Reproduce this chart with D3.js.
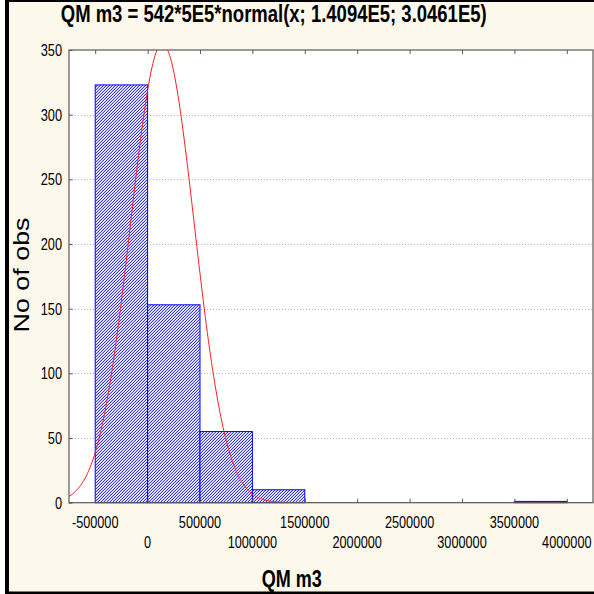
<!DOCTYPE html>
<html>
<head>
<meta charset="utf-8">
<script src="https://cdn.jsdelivr.net/npm/d3@7"></script>
<style>
  html, body { margin: 0; padding: 0; background: #ffffff; }
  svg { display: block; }
  text { font-family: "Liberation Sans", Arial, sans-serif; fill: #000; }
</style>
</head>
<body>
<svg id="chart" width="594" height="594"></svg>
<script>
// ---- data ----
const titleText = "QM m3 = 542*5E5*normal(x; 1.4094E5; 3.0461E5)";
const xLabel = "QM m3";
const yLabel = "No of obs";
const binLower = [-500000, 0, 500000, 1000000, 3500000];
const binUpper = [0, 500000, 1000000, 1500000, 4000000];
const binCounts = [323, 153, 55, 10, 1];
const fitN = 542, fitBinWidth = 5e5, fitMean = 1.4094e5, fitSd = 3.0461e5;
const xTicks = [-500000, 0, 500000, 1000000, 1500000, 2000000, 2500000, 3000000, 3500000, 4000000];
const yTicks = [0, 50, 100, 150, 200, 250, 300, 350];
const xDomain = [-750000, 4250000];
const yDomain = [0, 350];

// ---- layout ----
const W = 594, H = 594;
const plot = { left: 69, right: 593, top: 50, bottom: 502.7 };

const svg = d3.select("#chart");

// frame
svg.append("rect").attr("x", 5).attr("y", 0).attr("width", W - 5).attr("height", H).attr("fill", "#000");
svg.append("rect").attr("x", 9).attr("y", 2).attr("width", W - 9).attr("height", 589.5).attr("fill", "#fdf8ec");

const x = d3.scaleLinear().domain(xDomain).range([plot.left, plot.right]);
const y = d3.scaleLinear().domain(yDomain).range([plot.bottom, plot.top]);

// pixel hatch pattern (3px diagonal)
const defs = svg.append("defs");
const pat = defs.append("pattern").attr("id", "hatch").attr("patternUnits", "userSpaceOnUse")
  .attr("width", 3).attr("height", 3);
const hatchPixels = [
  [0, 0, "#ffffff"], [1, 0, "#c6c6ff"], [2, 0, "#3232ff"],
  [0, 1, "#c6c6ff"], [1, 1, "#3232ff"], [2, 1, "#ffffff"],
  [0, 2, "#3232ff"], [1, 2, "#ffffff"], [2, 2, "#c6c6ff"]
];
pat.selectAll("rect").data(hatchPixels).join("rect")
  .attr("x", d => d[0]).attr("y", d => d[1]).attr("width", 1).attr("height", 1)
  .attr("fill", d => d[2]).attr("shape-rendering", "crispEdges");
defs.append("clipPath").attr("id", "plotclip").append("rect")
  .attr("x", plot.left).attr("y", plot.top)
  .attr("width", plot.right - plot.left).attr("height", plot.bottom - plot.top);

// plot background
svg.append("rect").attr("x", plot.left).attr("y", plot.top)
  .attr("width", plot.right - plot.left).attr("height", plot.bottom - plot.top)
  .attr("fill", "#ffffff");

// gridlines
svg.append("g").selectAll("line").data(yTicks.filter(d => d > 0 && d < 350)).join("line")
  .attr("x1", plot.left).attr("x2", plot.right)
  .attr("y1", d => Math.round(y(d)) + 0.5).attr("y2", d => Math.round(y(d)) + 0.5)
  .attr("stroke", "#b4b4b4").attr("stroke-width", 1).attr("stroke-dasharray", "1,2");

// bars
const bins = binCounts.map((c, i) => ({ lo: binLower[i], hi: binUpper[i], c }));
svg.append("g").selectAll("rect").data(bins).join("rect")
  .attr("x", d => x(d.lo)).attr("y", d => y(d.c))
  .attr("width", d => x(d.hi) - x(d.lo)).attr("height", d => y(0) - y(d.c))
  .attr("fill", "url(#hatch)").attr("stroke", "#0000ff").attr("stroke-width", 1);

// fitted normal curve
const pdf = v => fitN * fitBinWidth * Math.exp(-0.5 * Math.pow((v - fitMean) / fitSd, 2)) / (fitSd * Math.sqrt(2 * Math.PI));
const curveX = d3.range(xDomain[0], xDomain[1] + 1, 10000);
svg.append("path").datum(curveX)
  .attr("clip-path", "url(#plotclip)")
  .attr("d", d3.line().x(d => x(d)).y(d => y(pdf(d))))
  .attr("fill", "none").attr("stroke", "#ff2020").attr("stroke-width", 1);

// axes frame
const axisColor = "#5a5a5a";
svg.append("rect").attr("x", plot.left).attr("y", plot.top)
  .attr("width", plot.right - plot.left).attr("height", plot.bottom - plot.top)
  .attr("fill", "none").attr("stroke", axisColor).attr("stroke-width", 1.2);

// x ticks (inside, top and bottom) and labels
const xAxisBottom = svg.append("g").attr("transform", `translate(0,${plot.bottom})`)
  .call(d3.axisBottom(x).tickValues(xTicks).tickSizeInner(-4).tickSizeOuter(0).tickFormat(""));
xAxisBottom.select(".domain").remove();
xAxisBottom.selectAll("line").attr("stroke", axisColor);
const xAxisTop = svg.append("g").attr("transform", `translate(0,${plot.top})`)
  .call(d3.axisTop(x).tickValues(xTicks).tickSizeInner(-4).tickSizeOuter(0).tickFormat(""));
xAxisTop.select(".domain").remove();
xAxisTop.selectAll("line").attr("stroke", axisColor);

svg.append("g").selectAll("text").data(xTicks).join("text")
  .attr("text-anchor", "middle")
  .attr("font-size", 12.7)
  .attr("transform", (d, i) => `translate(${x(d)},${i % 2 === 0 ? 528.3 : 548}) scale(1,1.3)`)
  .text(d => String(d));

// y ticks (inside) and labels
const yAxis = svg.append("g").attr("transform", `translate(${plot.left},0)`)
  .call(d3.axisLeft(y).tickValues(yTicks).tickSizeInner(-3.5).tickSizeOuter(0).tickFormat(""));
yAxis.select(".domain").remove();
yAxis.selectAll("line").attr("stroke", axisColor);

svg.append("g").selectAll("text").data(yTicks).join("text")
  .attr("text-anchor", "end")
  .attr("font-size", 12.8)
  .attr("transform", d => `translate(62,${y(d) + 6}) scale(1,1.28)`)
  .text(d => d);

// title
svg.append("text").attr("text-anchor", "middle").attr("font-weight", "bold")
  .attr("font-size", 18.5)
  .attr("transform", "translate(273.7,22) scale(1,1.3)")
  .text(titleText);

// x label
svg.append("text").attr("text-anchor", "middle").attr("font-weight", "bold")
  .attr("font-size", 18)
  .attr("transform", "translate(291.7,586.5) scale(1,1.3)")
  .text(xLabel);

// y label
svg.append("text").attr("text-anchor", "middle")
  .attr("font-size", 21)
  .attr("transform", "translate(29,275) rotate(-90) scale(1.28,1.05)")
  .text(yLabel);
</script>
</body>
</html>
